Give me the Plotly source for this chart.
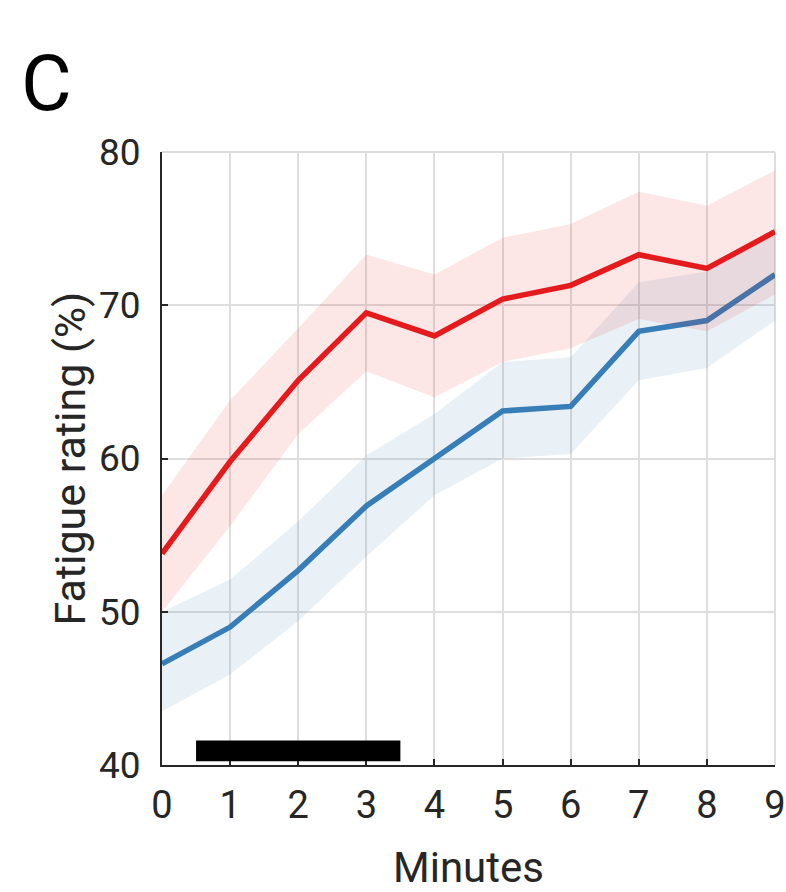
import plotly.graph_objects as go

minutes = [0, 1, 2, 3, 4, 5, 6, 7, 8, 9]

red_mean = [53.8, 59.8, 65.1, 69.5, 68.0, 70.4, 71.3, 73.3, 72.4, 74.8]
red_upper = [57.6, 63.8, 68.5, 73.3, 72.0, 74.4, 75.3, 77.4, 76.5, 78.8]
red_lower = [50.0, 55.6, 61.6, 65.7, 64.0, 66.3, 67.2, 69.1, 68.3, 70.7]

blue_mean = [46.6, 49.0, 52.7, 56.9, 60.0, 63.1, 63.4, 68.3, 69.0, 72.0]
blue_upper = [50.0, 52.1, 55.9, 60.2, 62.9, 66.3, 66.6, 71.5, 72.2, 75.0]
blue_lower = [43.5, 45.9, 49.4, 53.6, 57.6, 60.0, 60.3, 65.1, 65.9, 69.0]

stim_start, stim_end = 0.5, 3.5
stim_low, stim_high = 40.25, 41.6

x_ticks = [0, 1, 2, 3, 4, 5, 6, 7, 8, 9]
y_ticks = [40, 50, 60, 70, 80]

RED = "rgb(228,26,28)"
BLUE = "rgb(55,126,184)"
FONT = "Roboto"
TXT = "#262626"

fig = go.Figure()


def band(upper, lower, fill):
    fig.add_trace(go.Scatter(x=minutes, y=upper, mode="lines", line=dict(width=0),
                             hoverinfo="skip", showlegend=False))
    fig.add_trace(go.Scatter(x=minutes, y=lower, mode="lines", line=dict(width=0),
                             fill="tonexty", fillcolor=fill, hoverinfo="skip",
                             showlegend=False))


band(blue_upper, blue_lower, "rgba(55,126,184,0.11)")
fig.add_trace(go.Scatter(x=minutes, y=blue_mean, mode="lines",
                         line=dict(color=BLUE, width=5.5), showlegend=False))
band(red_upper, red_lower, "rgba(228,26,28,0.11)")
fig.add_trace(go.Scatter(x=minutes, y=red_mean, mode="lines",
                         line=dict(color=RED, width=5.5), showlegend=False))

# stimulation bar
fig.add_shape(type="rect", xref="x", yref="y", x0=stim_start, x1=stim_end,
              y0=stim_low, y1=stim_high, fillcolor="black", line=dict(width=0),
              layer="above")

# light top / right frame
fig.add_shape(type="line", xref="x domain", yref="y domain", x0=0, x1=1, y0=1, y1=1,
              line=dict(color="rgb(222,222,222)", width=2), layer="below")
fig.add_shape(type="line", xref="x domain", yref="y domain", x0=1, x1=1, y0=0, y1=1,
              line=dict(color="rgb(222,222,222)", width=2), layer="below")

PLOT_H = 613.0
PLOT_W = 613.0

fig.update_layout(
    width=786, height=892,
    margin=dict(l=162, r=11, t=152, b=127, autoexpand=False),
    plot_bgcolor="white", paper_bgcolor="white",
    font=dict(family=FONT, color=TXT),
    xaxis=dict(
        range=[0, 9], tickvals=x_ticks, ticktext=[str(v) for v in x_ticks],
        showgrid=True, gridcolor="rgb(222,222,222)", gridwidth=2,
        showline=True, linecolor=TXT, linewidth=2,
        ticks="inside", ticklen=6, tickwidth=2, tickcolor=TXT,
        tickfont=dict(size=38, family=FONT, color=TXT),
        ticklabelstandoff=5, automargin=False,
        zeroline=False,
    ),
    yaxis=dict(
        range=[40, 80], tickvals=y_ticks, ticktext=[str(v) for v in y_ticks],
        showgrid=True, gridcolor="rgb(222,222,222)", gridwidth=2,
        showline=True, linecolor=TXT, linewidth=2,
        ticks="inside", ticklen=6, tickwidth=2, tickcolor=TXT,
        tickfont=dict(size=37, family=FONT, color=TXT),
        ticklabelstandoff=12, automargin=False,
        zeroline=False,
    ),
    annotations=[
        dict(text="C", xref="paper", yref="paper", x=(46 - 162) / PLOT_W, y=(765 - 84) / PLOT_H,
             xanchor="center", yanchor="middle", showarrow=False,
             font=dict(size=78, family=FONT, color="black")),
        dict(text="Minutes", xref="paper", yref="paper", x=0.5, y=-(868 - 765) / PLOT_H,
             xanchor="center", yanchor="middle", showarrow=False,
             font=dict(size=42, family=FONT, color=TXT)),
        dict(text="Fatigue rating (%)", xref="paper", yref="paper", x=(69 - 162) / PLOT_W, y=0.5,
             xanchor="center", yanchor="middle", showarrow=False, textangle=-90,
             font=dict(size=43, family=FONT, color=TXT)),
    ],
)

fig.write_html("out.html", config={"displayModeBar": False},
               post_script="document.body.style.margin='0';document.body.style.overflow='hidden';")
